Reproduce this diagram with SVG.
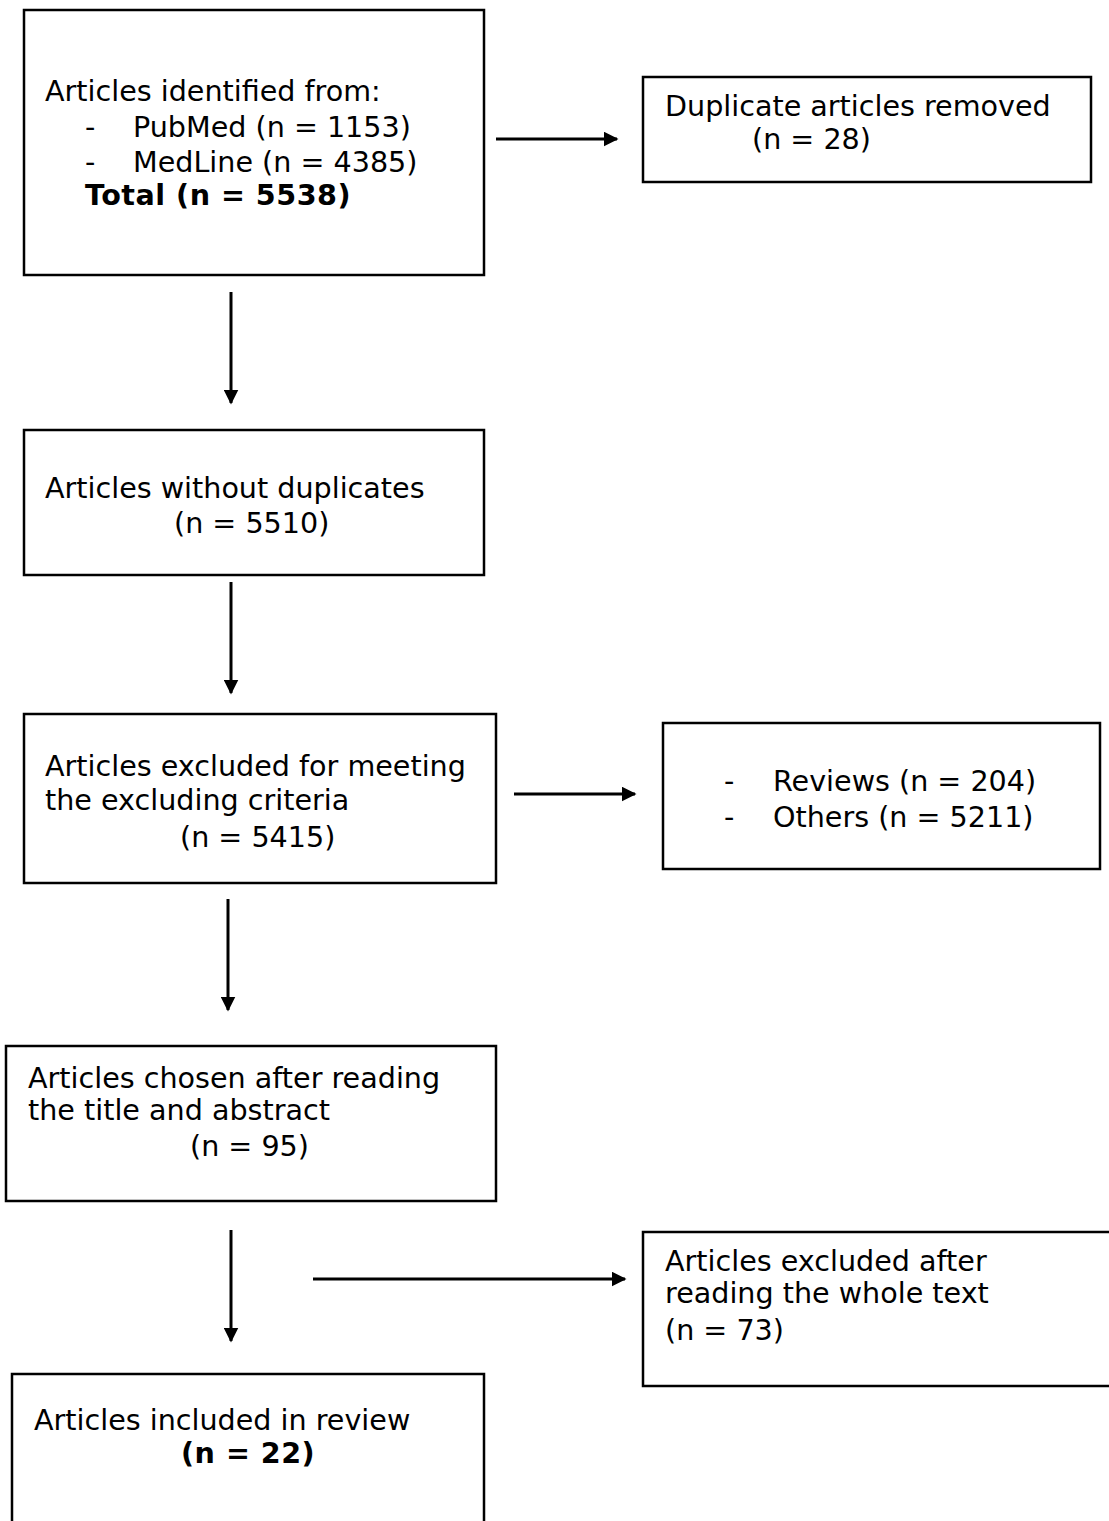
<svg xmlns="http://www.w3.org/2000/svg" width="1109" height="1521" viewBox="0 0 1109 1521">
<style>
rect{fill:#fff;stroke:#000;stroke-width:2.5}
text{font-family:"DejaVu Sans","Verdana",sans-serif;font-size:28.6px;fill:#000}
.b{font-weight:bold;letter-spacing:0.5px}
.c{stroke:#000;stroke-width:3;fill:none}
</style>
<defs>
<marker id="ah" viewBox="0 0 10 10" refX="9" refY="5" markerWidth="5" markerHeight="5" orient="auto" markerUnits="strokeWidth">
<path d="M0,0 L10,5 L0,10 z" fill="#000"/>
</marker>
</defs>
<rect width="1109" height="1521" style="stroke:none"/>
<g id="n1"><rect x="24" y="10" width="460" height="265"/>
<text x="45" y="101">Articles identified from:</text>
<text x="85" y="137">-</text><text x="133" y="137">PubMed (n = 1153)</text>
<text x="85" y="172">-</text><text x="133" y="172">MedLine (n = 4385)</text>
<text x="85" y="205" class="b">Total (n = 5538)</text></g>
<g id="n2"><rect x="643" y="77" width="448" height="105"/>
<text x="665" y="116">Duplicate articles removed</text>
<text x="752" y="149">(n = 28)</text></g>
<g id="n3"><rect x="24" y="430" width="460" height="145"/>
<text x="45" y="498">Articles without duplicates</text>
<text x="174" y="533">(n = 5510)</text></g>
<g id="n4"><rect x="24" y="714" width="472" height="169"/>
<text x="45" y="776">Articles excluded for meeting</text>
<text x="45" y="810">the excluding criteria</text>
<text x="180" y="847">(n = 5415)</text></g>
<g id="n5"><rect x="663" y="723" width="437" height="146"/>
<text x="724" y="791">-</text><text x="773" y="791">Reviews (n = 204)</text>
<text x="724" y="827">-</text><text x="773" y="827">Others (n = 5211)</text></g>
<g id="n6"><rect x="6" y="1046" width="490" height="155"/>
<text x="28" y="1088">Articles chosen after reading</text>
<text x="28" y="1120">the title and abstract</text>
<text x="190" y="1156">(n = 95)</text></g>
<g id="n7"><rect x="643" y="1232" width="470" height="154"/>
<text x="665" y="1271">Articles excluded after</text>
<text x="665" y="1303">reading the whole text</text>
<text x="665" y="1340">(n = 73)</text></g>
<g id="n8"><rect x="12" y="1374" width="472" height="160"/>
<text x="34" y="1430">Articles included in review</text>
<text x="181" y="1463" class="b">(n = 22)</text></g>
<g id="connectors">
<line class="c" x1="496" y1="139" x2="617" y2="139" marker-end="url(#ah)"/>
<line class="c" x1="231" y1="292" x2="231" y2="403" marker-end="url(#ah)"/>
<line class="c" x1="231" y1="582" x2="231" y2="693" marker-end="url(#ah)"/>
<line class="c" x1="514" y1="794" x2="635" y2="794" marker-end="url(#ah)"/>
<line class="c" x1="228" y1="899" x2="228" y2="1010" marker-end="url(#ah)"/>
<line class="c" x1="231" y1="1230" x2="231" y2="1341" marker-end="url(#ah)"/>
<line class="c" x1="313" y1="1279" x2="625" y2="1279" marker-end="url(#ah)"/>
</g>
</svg>
